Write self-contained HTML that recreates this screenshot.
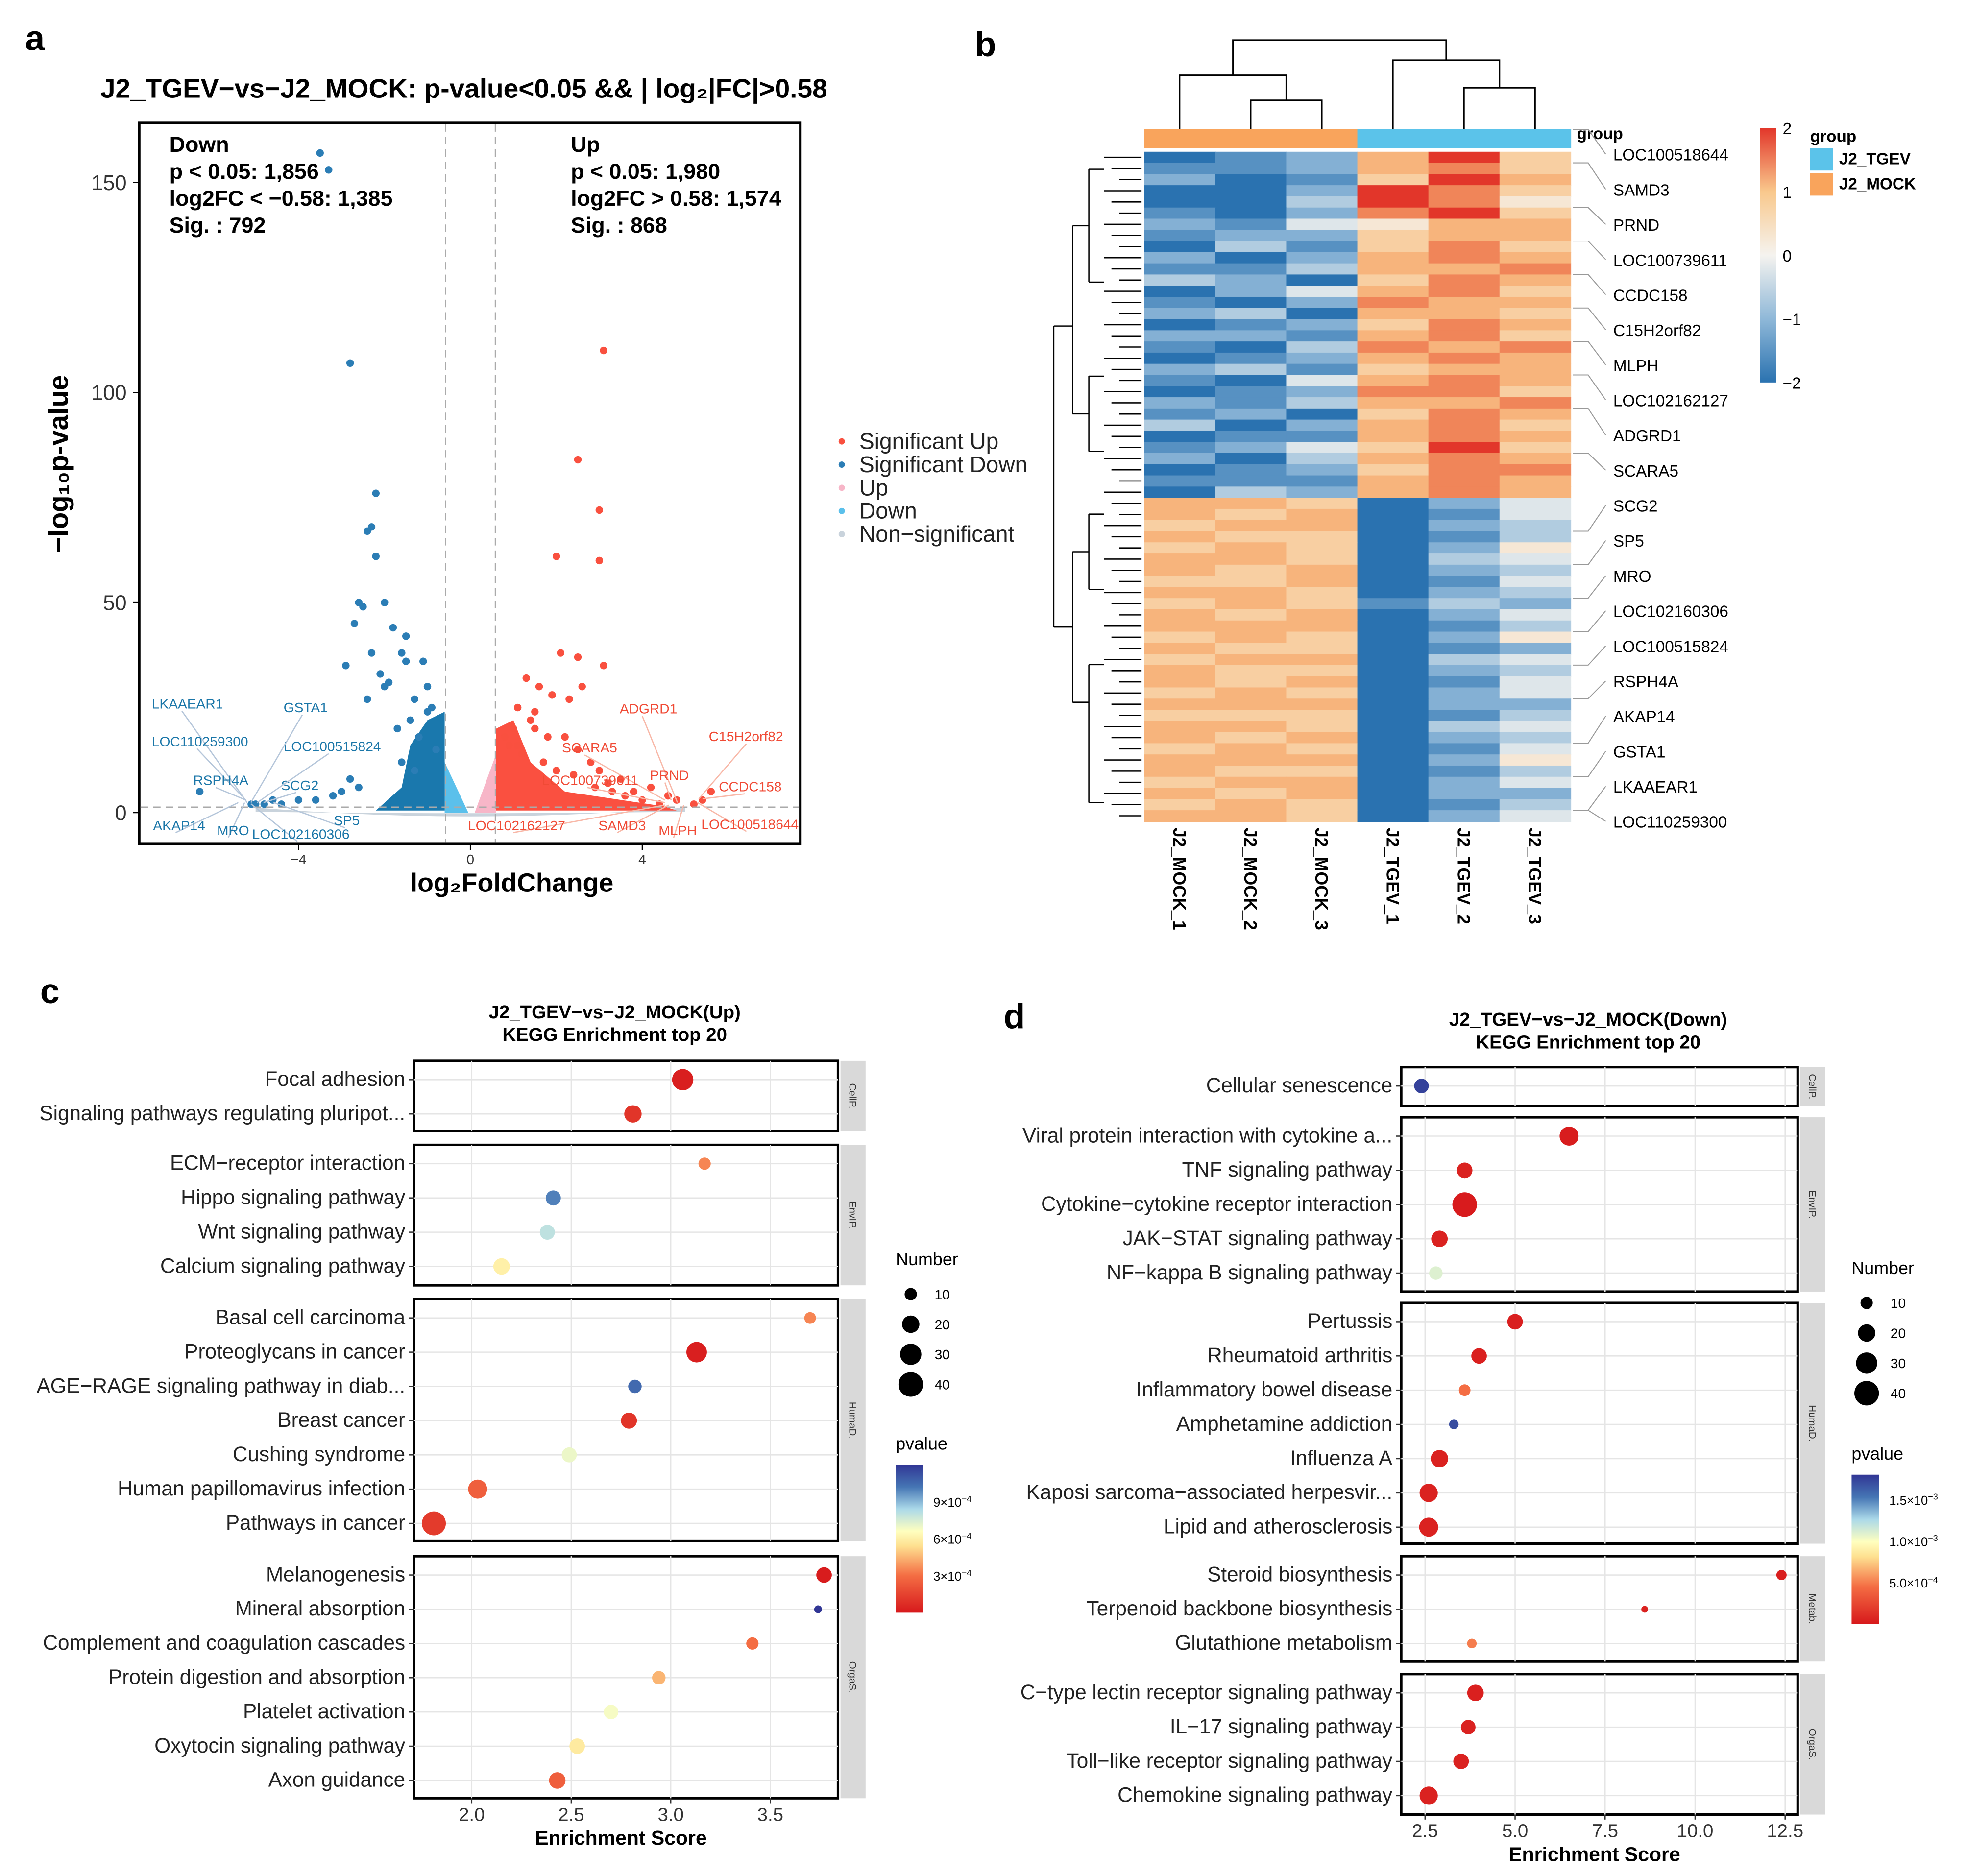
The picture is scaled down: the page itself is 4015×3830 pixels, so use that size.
<!DOCTYPE html>
<html><head><meta charset="utf-8"><style>
html,body{margin:0;padding:0;background:#fff}
svg{display:block}
text{font-family:"Liberation Sans",Arial,sans-serif}
</style></head><body>
<svg id="fig" xmlns="http://www.w3.org/2000/svg" width="4015" height="3830" viewBox="0 0 1568 1496" preserveAspectRatio="none">
<rect width="1568" height="1496" fill="#fff"/>
<g id="pa"></g>
<g id="pb"></g>
<g id="pc"></g>
<g id="pd"></g>
</svg>
<script>
// ---------- Panel a data ----------
const upFC = [3.1,2.5,3.0,2.0,3.0,2.1,2.5,3.1,2.6,1.3,1.6,1.9,2.3,1.1,1.5,4.6,4.8,5.4,5.6,5.2,4.2,3.8,3.5,3.0,3.2,2.8,2.5,2.2,1.0,1.4,1.8,0.9,1.2,1.7,2.0,2.4,2.9,3.3,3.6,4.0,4.4,0.8,1.1,1.5];
const upP  = [110,84,72,61,60,38,37,35,30,32,30,28,27,25,24,4,3,3,5,2,6,5,8,10,7,12,15,18,20,22,18,16,14,12,10,9,6,5,4,3,2,18,16,20];
const dnFC = [-3.5,-3.3,-2.8,-2.2,-2.3,-2.4,-2.2,-2.6,-2.5,-2.0,-2.7,-1.8,-1.5,-1.6,-1.5,-2.3,-2.1,-2.0,-1.9,-1.1,-1.0,-2.9,-2.4,-1.3,-0.9,-6.3,-5.1,-5.0,-4.8,-4.6,-4.4,-4.0,-3.6,-3.2,-3.0,-2.8,-2.6,-1.7,-1.4,-1.2,-0.8,-1.0,-1.6,-1.3];
const dnP  = [157,153,107,76,68,67,61,50,49,50,45,44,42,38,36,38,33,30,31,36,30,35,27,27,25,5,2,2,2,3,2,3,3,4,5,8,6,20,22,18,15,24,12,10];
const xTicksA = [-4,0,4];
const yTicksA = [0,50,100,150];
// ---------- Panel b data ----------
const hmRows = ["012796","112786","201697","002986","003985","102896","214577","122677","031686","202787","113778","320687","024786","102877","230776","012687","221786","103878","012787","231677","104787","012886","213778","120687","302786","011787","124696","203787","012688","111787","032787",
"776024","767014","677023","766013","676025","776034","767023","667014","776023","676132","767024","777013","676025","766012","677034","766023","767014","676024","777022","666013","776034","767023","676014","777025","766013","677024","767022","676013","776024"];
const hmCols = ["J2_MOCK_1","J2_MOCK_2","J2_MOCK_3","J2_TGEV_1","J2_TGEV_2","J2_TGEV_3"];
const hmGenes = ["LOC100518644","SAMD3","PRND","LOC100739611","CCDC158","C15H2orf82","MLPH","LOC102162127","ADGRD1","SCARA5","SCG2","SP5","MRO","LOC102160306","LOC100515824","RSPH4A","AKAP14","GSTA1","LKAAEAR1","LOC110259300"];
const hmTicks = [2,1,0,-1,-2];
// ---------- Panel c data ----------
const cTerms = ["Focal adhesion","Signaling pathways regulating pluripot...","ECM−receptor interaction","Hippo signaling pathway","Wnt signaling pathway","Calcium signaling pathway","Basal cell carcinoma","Proteoglycans in cancer","AGE−RAGE signaling pathway in diab...","Breast cancer","Cushing syndrome","Human papillomavirus infection","Pathways in cancer","Melanogenesis","Mineral absorption","Complement and coagulation cascades","Protein digestion and absorption","Platelet activation","Oxytocin signaling pathway","Axon guidance"];
const cFacet = [0,0,1,1,1,1,2,2,2,2,2,2,2,3,3,3,3,3,3,3];
const cScore = [3.06,2.81,3.17,2.41,2.38,2.15,3.70,3.13,2.82,2.79,2.49,2.03,1.81,3.77,3.74,3.41,2.94,2.70,2.53,2.43];
const cCount = [30,20,10,15,15,18,9,28,12,17,15,24,38,16,4,10,12,14,16,18];
const cPval  = [2e-5,1e-4,3.5e-4,1.0e-3,8e-4,6e-4,3.5e-4,2e-5,1.05e-3,1e-4,7e-4,2.5e-4,1.2e-4,1e-5,1.2e-3,3e-4,4.5e-4,6.8e-4,5.8e-4,2.5e-4];
const cFacetNames = ["CellP.","EnvIP.","HumaD.","OrgaS."];
const cXTicks = [2.0,2.5,3.0,3.5];
// ---------- Panel d data ----------
const dTerms = ["Cellular senescence","Viral protein interaction with cytokine a...","TNF signaling pathway","Cytokine−cytokine receptor interaction","JAK−STAT signaling pathway","NF−kappa B signaling pathway","Pertussis","Rheumatoid arthritis","Inflammatory bowel disease","Amphetamine addiction","Influenza A","Kaposi sarcoma−associated herpesvir...","Lipid and atherosclerosis","Steroid biosynthesis","Terpenoid backbone biosynthesis","Glutathione metabolism","C−type lectin receptor signaling pathway","IL−17 signaling pathway","Toll−like receptor signaling pathway","Chemokine signaling pathway"];
const dFacet = [0,1,1,1,1,1,2,2,2,2,2,2,2,3,3,3,4,4,4,4];
const dScore = [2.4,6.5,3.6,3.6,2.9,2.8,5.0,4.0,3.6,3.3,2.9,2.6,2.6,12.4,8.6,3.8,3.9,3.7,3.5,2.6];
const dCount = [14,24,16,40,18,12,16,16,9,6,20,22,24,7,3,6,18,14,16,22];
const dPval  = [1.75e-3,2e-5,5e-5,1e-5,5e-5,1.1e-3,3e-5,4e-5,4.5e-4,1.7e-3,5e-5,5e-5,5e-5,3e-5,5e-5,5e-4,4e-5,5e-5,5e-5,5e-5];
const dFacetNames = ["CellP.","EnvIP.","HumaD.","Metab.","OrgaS."];
const dXTicks = [2.5,5.0,7.5,10.0,12.5];
const legCounts = [10,20,30,40];

const NS="http://www.w3.org/2000/svg";
function mk(tag,a,p){const e=document.createElementNS(NS,tag);for(const k in a)e.setAttribute(k,a[k]);if(p)p.appendChild(e);return e;}
function tx(s,a,p){const e=mk('text',a,p);e.textContent=s;return e;}
function lerp(a,b,t){return a+(b-a)*t;}
function hex(c){return [parseInt(c.slice(1,3),16),parseInt(c.slice(3,5),16),parseInt(c.slice(5,7),16)];}
function ramp(stops,t){t=Math.max(0,Math.min(1,t));for(let i=1;i<stops.length;i++){if(t<=stops[i][0]){const [t0,c0]=stops[i-1],[t1,c1]=stops[i];const u=(t-t0)/(t1-t0||1);const A=hex(c0),B=hex(c1);return 'rgb('+A.map((v,j)=>Math.round(lerp(v,B[j],u))).join(',')+')';}}return stops[stops.length-1][1];}
const pvStops=[[0,'#d7191c'],[0.25,'#f46d43'],[0.45,'#fee090'],[0.55,'#ffffbf'],[0.7,'#abd9e9'],[0.85,'#4575b4'],[1,'#313695']];
const hmStops=[[0,'#2a72b0'],[0.25,'#8fb8d8'],[0.5,'#f5f3ef'],[0.72,'#f9c48a'],[0.85,'#f5a06a'],[1,'#e2362a']];

// ================= Panel a =================
const pa=document.getElementById('pa');
const xA=v=>375+v*34.25, yA=v=>648-v*3.35;
let e;
e=tx('a',{x:20,y:40,'font-size':28,'font-weight':'bold'},pa);


e=tx('J2_TGEV−vs−J2_MOCK: p-value<0.05 && | log₂|FC|>0.58',{x:80,y:78,'font-size':21.5,'font-weight':'bold'},pa);


e=mk('rect',{x:111,y:98,width:527,height:575,fill:'none',stroke:'#000','stroke-width':2},pa);


e=mk('path',{d:`M${xA(-5)} ${yA(1.2)} Q${xA(0)} ${yA(-3)} ${xA(5)} ${yA(1.2)} L${xA(5)} ${yA(0.2)} Q${xA(0)} ${yA(-0.5)} ${xA(-5)} ${yA(0.2)}Z`,fill:'#c9d3dc'},pa);


e=mk('path',{d:`M${xA(-0.6)} ${yA(0)} L${xA(-0.6)} ${yA(12)} L${xA(-0.05)} ${yA(0)}Z`,fill:'#5bc0eb'},pa);


e=mk('path',{d:`M${xA(0.6)} ${yA(0)} L${xA(0.6)} ${yA(14)} L${xA(0.1)} ${yA(0)}Z`,fill:'#f7b6c8'},pa);


e=mk('path',{d:`M${xA(-2.2)} ${yA(0.5)} L${xA(-1.6)} ${yA(6)} L${xA(-1.4)} ${yA(16)} L${xA(-1.0)} ${yA(22)} L${xA(-0.6)} ${yA(24)} L${xA(-0.6)} ${yA(0.5)}Z`,fill:'#1a78ad'},pa);


e=mk('path',{d:`M${xA(0.6)} ${yA(0.5)} L${xA(0.6)} ${yA(20)} L${xA(1.0)} ${yA(22)} L${xA(1.4)} ${yA(12)} L${xA(2.2)} ${yA(5)} L${xA(4.5)} ${yA(1.5)} L${xA(4.8)} ${yA(0.5)}Z`,fill:'#fa5040'},pa);


upFC.forEach((v,i)=>{const c=mk('circle',{cx:xA(v),cy:yA(upP[i]),r:3,fill:'#f9503f'},pa);

});
dnFC.forEach((v,i)=>{const c=mk('circle',{cx:xA(v),cy:yA(dnP[i]),r:3,fill:'#2b7db5'},pa);

});
[-0.58,0.58].forEach(v=>{const l=mk('line',{x1:xA(v),x2:xA(v),y1:99,y2:672,stroke:'#aaa','stroke-dasharray':'6,4'},pa);

});
e=mk('line',{x1:112,x2:637,y1:yA(1.3),y2:yA(1.3),stroke:'#aaa','stroke-dasharray':'6,4'},pa);


xTicksA.forEach(v=>{mk('line',{x1:xA(v),x2:xA(v),y1:673,y2:678,stroke:'#000'},pa);
const t=tx(String(v).replace('-','−'),{x:xA(v),y:689,'font-size':11,'text-anchor':'middle',fill:'#333'},pa);

});
yTicksA.forEach(v=>{mk('line',{x1:106,x2:111,y1:yA(v),y2:yA(v),stroke:'#000'},pa);
const t=tx(v,{x:101,y:yA(v)+6,'font-size':17,'text-anchor':'end',fill:'#333'},pa);

});
e=tx('log₂FoldChange',{x:408,y:711,'font-size':21,'font-weight':'bold','text-anchor':'middle'},pa);


e=tx('−log₁₀p-value',{x:0,y:0,'font-size':22,'font-weight':'bold','text-anchor':'middle',transform:'translate(54,370) rotate(-90)'},pa);


const stL=['Down','p < 0.05: 1,856','log2FC < −0.58: 1,385','Sig. : 792'], stR=['Up','p < 0.05: 1,980','log2FC > 0.58: 1,574','Sig. : 868'];
stL.forEach((s,i)=>{const t=tx(s,{x:135,y:121+i*21.5,'font-size':17.5,'font-weight':'bold'},pa);

});
stR.forEach((s,i)=>{const t=tx(s,{x:455,y:121+i*21.5,'font-size':17.5,'font-weight':'bold'},pa);

});
const labsB=[['LKAAEAR1',121,565,197,640],['LOC110259300',121,595,193,635],['RSPH4A',154,626,196,638],['AKAP14',122,662,190,640],['MRO',173,666,195,640],['LOC102160306',201,669,200,641],['SP5',266,658,218,640],['SCG2',224,630,210,640],['LOC100515824',226,599,205,640],['GSTA1',226,568,200,640]];
labsB.forEach(a=>{mk('line',{x1:a[1]+(a[0].length*3),x2:a[3],y1:a[2]+2,y2:a[4],stroke:'#b5c6da'},pa);
const t=tx(a[0],{x:a[1],y:a[2],'font-size':11,fill:'#1a76a8'},pa);

});
const labsR=[['ADGRD1',494,569,540,640],['C15H2orf82',565,591,557,637],['SCARA5',448,600,530,638],['PRND',518,622,535,638],['CCDC158',573,631,560,637],['LOC100739611',432,626,530,640],['LOC102162127',373,662,530,642],['SAMD3',477,662,533,642],['MLPH',525,666,545,642],['LOC100518644',559,661,556,640]];
labsR.forEach(a=>{mk('line',{x1:a[1]+(a[0].length*3),x2:a[3],y1:a[2]+2,y2:a[4],stroke:'#f8b8a8'},pa);
const t=tx(a[0],{x:a[1],y:a[2],'font-size':11,fill:'#f04a35'},pa);

});
const lgA=[['Significant Up','#f9503f'],['Significant Down','#2b7db5'],['Up','#f7b6c8'],['Down','#5bc0eb'],['Non−significant','#c9d3dc']];
lgA.forEach((d,i)=>{const y=352+i*18.5;
const c=mk('circle',{cx:671,cy:y,r:2.5,fill:d[1]},pa);


const t=tx(d[0],{x:685,y:y+6,'font-size':18,fill:'#222'},pa);

});

// ================= Panel b =================
const pb=document.getElementById('pb');
e=tx('b',{x:777,y:45,'font-size':28,'font-weight':'bold'},pb);


const hx0=912,hx1=1252,hy0=121,hy1=655;
const cw=(hx1-hx0)/hmCols.length, rh=(hy1-hy0)/hmRows.length;
hmRows.forEach((row,r)=>{for(let c=0;c<6;c++){const v=(parseInt(row[c])-4.5)/2.25;
const cell=mk('rect',{x:hx0+c*cw,y:hy0+r*rh,width:cw+0.5,height:rh+0.5,fill:ramp(hmStops,(v+2)/4)},pb);

}});
hmCols.forEach((n,c)=>{const r=mk('rect',{x:hx0+c*cw,y:103,width:cw+0.5,height:15,fill:n.includes('MOCK')?'#f9a45c':'#5bc3ea'},pb);


const t=tx(n,{x:0,y:0,'font-size':14,'font-weight':'bold',transform:`translate(${hx0+c*cw+cw/2-5},660) rotate(90)`},pb);

});
e=tx('group',{x:1257,y:111,'font-size':13,'font-weight':'bold'},pb);


const dg=mk('g',{stroke:'#000','stroke-width':1.2,fill:'none'},pb);


const cx=i=>hx0+i*cw+cw/2;
mk('path',{d:`M${cx(1)} 103V80H${cx(2)}V103 M${cx(0)} 103V60H${(cx(1)+cx(2))/2}V80 M${cx(4)} 103V70H${cx(5)}V103 M${cx(3)} 103V48H${(cx(4)+cx(5))/2}V70 M${(cx(0)+(cx(1)+cx(2))/2)/2} 60V32H${(cx(3)+(cx(4)+cx(5))/2)/2}V48`},dg);
const lg=mk('g',{stroke:'#000','stroke-width':1,fill:'none'},pb);


for(let i=0;i<hmRows.length;i++){const y=hy0+i*rh+rh/2;mk('line',{x1:880+(i%3)*6,x2:910,y1:y,y2:y},lg);}
mk('path',{d:'M840 260V500 M840 260H855 M840 500H855 M855 180V330 M855 440V560 M855 180H868 M855 330H868 M855 440H868 M855 560H868 M868 135V225 M868 300V360 M868 410V470 M868 530V640 M868 135H880 M868 225H880 M868 300H880 M868 360H880 M868 410H880 M868 470H880 M868 530H880 M868 640H880'},lg);
hmGenes.forEach((g,i)=>{const y=123+i*28;const ry=hy0+Math.min(hmRows.length-1,Math.round((y-hy0)/rh+ (i<10?-2:2)))*rh;
mk('path',{d:`M1254 ${ry}L1266 ${ry}L1280 ${y}`,stroke:'#999',fill:'none','stroke-width':0.8},pb);
const t=tx(g,{x:1286,y:y+5,'font-size':13},pb);

});
const gr=mk('linearGradient',{id:'hmg',x1:0,y1:0,x2:0,y2:1},mk('defs',{},pb));
[[0,'#e2362a'],[0.25,'#f9c88c'],[0.5,'#f5f3ef'],[0.75,'#8fb8d8'],[1,'#2a72b0']].forEach(s=>mk('stop',{offset:s[0],'stop-color':s[1]},gr));
e=mk('rect',{x:1403,y:102,width:13,height:203,fill:'url(#hmg)'},pb);


hmTicks.forEach(v=>{const y=102+(2-v)/4*203;const t=tx(String(v).replace('-','−'),{x:1421,y:y+5,'font-size':13},pb);

});
e=tx('group',{x:1443,y:113,'font-size':13,'font-weight':'bold'},pb);


[['J2_TGEV','#5bc3ea',118],['J2_MOCK','#f9a45c',138]].forEach(d=>{const r=mk('rect',{x:1443,y:d[2],width:18,height:18,fill:d[1]},pb);


const t=tx(d[0],{x:1466,y:d[2]+13,'font-size':13,'font-weight':'bold'},pb);

});

// ================= Dot plots =================
function dotPlot(g,o){
  const L=tx(o.label,{x:o.lx,y:o.ly,'font-size':28,'font-weight':'bold'},g);
  
  
  o.titles.forEach((s,i)=>{const t=tx(s,{x:o.tx,y:o.ty+i*18,'font-size':15,'font-weight':'bold','text-anchor':'middle'},g);
  
  });
  const xS=v=>o.x0+(v-o.v0)*o.k;
  o.facets.forEach((f,fi)=>{
    const b=mk('rect',{x:o.bx0,y:f[0],width:o.bx1-o.bx0,height:f[1]-f[0],fill:'none',stroke:'#000','stroke-width':2},g);
    
    
    o.xt.forEach(v=>mk('line',{x1:xS(v),x2:xS(v),y1:f[0],y2:f[1],stroke:'#e5e5e5'},g));
    const s=mk('rect',{x:o.bx1+2,y:f[0],width:20,height:f[1]-f[0],fill:'#d9d9d9'},g);
    
    
    const st=tx(o.fnames[fi],{x:0,y:0,'font-size':8,'text-anchor':'middle',fill:'#333',transform:`translate(${o.bx1+9},${(f[0]+f[1])/2}) rotate(90)`},g);
    
    
  });
  const cnt=new Array(o.facets.length).fill(0);
  o.terms.forEach((t,i)=>{const f=o.fac[i];const y=o.facets[f][0]+15+cnt[f]*27.3;cnt[f]++;
    mk('line',{x1:o.bx0,x2:o.bx1,y1:y,y2:y,stroke:'#e5e5e5'},g);
    mk('line',{x1:o.bx0-4,x2:o.bx0,y1:y,y2:y,stroke:'#333'},g);
    const lab=tx(t,{x:o.bx0-7,y:y+5,'font-size':16.5,'text-anchor':'end',fill:'#222'},g);
    
    
    const c=mk('circle',{cx:xS(o.score[i]),cy:y,r:Math.sqrt(o.count[i])*1.55,fill:ramp(pvStops,o.pv[i]/o.pmax)},g);
    
    
  });
  const yb=o.facets[o.facets.length-1][1];
  o.xt.forEach(v=>{mk('line',{x1:xS(v),x2:xS(v),y1:yb,y2:yb+4,stroke:'#333'},g);
    const t=tx(v.toFixed(1),{x:xS(v),y:yb+18,'font-size':15,'text-anchor':'middle',fill:'#333'},g);
    
    });
  const xt=tx('Enrichment Score',{x:(o.bx0+o.bx1)/2-4,y:yb+37,'font-size':16,'font-weight':'bold','text-anchor':'middle'},g);
  
  
  const nt=tx('Number',{x:o.lgx,y:o.lny,'font-size':14},g);
  
  
  legCounts.forEach((n,i)=>{const y=o.lny+23+i*24;
    const c=mk('circle',{cx:o.lgx+12,cy:y,r:Math.sqrt(n)*1.55,fill:'#000'},g);
    
    
    const t=tx(n,{x:o.lgx+31,y:y+4,'font-size':11},g);
    
    });
  const pt=tx('pvalue',{x:o.lgx,y:o.lpy,'font-size':14},g);
  
  
  const gid='pg'+o.label;
  const gr=mk('linearGradient',{id:gid,x1:0,y1:1,x2:0,y2:0},mk('defs',{},g));
  pvStops.forEach(s=>mk('stop',{offset:s[0],'stop-color':s[1]},gr));
  const cb=mk('rect',{x:o.lgx,y:o.lpy+12,width:22,height:o.cbh,fill:`url(#${gid})`},g);
  
  
  o.cbt.forEach(d=>{const y=o.lpy+12+o.cbh*(1-d[0]/o.pmax);
    const t=tx(d[1],{x:o.lgx+30,y:y+4,'font-size':10},g);
    
    
    const s=mk('tspan',{'font-size':7,dy:-4},t);s.textContent=d[2];});
}
dotPlot(document.getElementById('pc'),{label:'c',lx:32,ly:800,titles:['J2_TGEV−vs−J2_MOCK(Up)','KEGG Enrichment top 20'],tx:490,ty:812,
 x0:376,v0:2.0,k:158.7,bx0:330,bx1:668,facets:[[846,902],[913,1025],[1036,1229],[1241,1434]],fnames:cFacetNames,
 terms:cTerms,fac:cFacet,score:cScore,count:cCount,pv:cPval,pmax:1.2e-3,xt:cXTicks,
 lgx:714,lny:1009,lpy:1156,cbh:118,cbt:[[9e-4,'9×10','−4'],[6e-4,'6×10','−4'],[3e-4,'3×10','−4']]});
dotPlot(document.getElementById('pd'),{label:'d',lx:800,ly:820,titles:['J2_TGEV−vs−J2_MOCK(Down)','KEGG Enrichment top 20'],tx:1266,ty:818,
 x0:1136,v0:2.5,k:28.7,bx0:1117,bx1:1433,facets:[[851,882],[891,1030],[1039,1231],[1241,1325],[1335,1447]],fnames:dFacetNames,
 terms:dTerms,fac:dFacet,score:dScore,count:dCount,pv:dPval,pmax:1.8e-3,xt:dXTicks,
 lgx:1476,lny:1016,lpy:1164,cbh:119,cbt:[[1.5e-3,'1.5×10','−3'],[1.0e-3,'1.0×10','−3'],[5e-4,'5.0×10','−4']]});
</script>
</body></html>
